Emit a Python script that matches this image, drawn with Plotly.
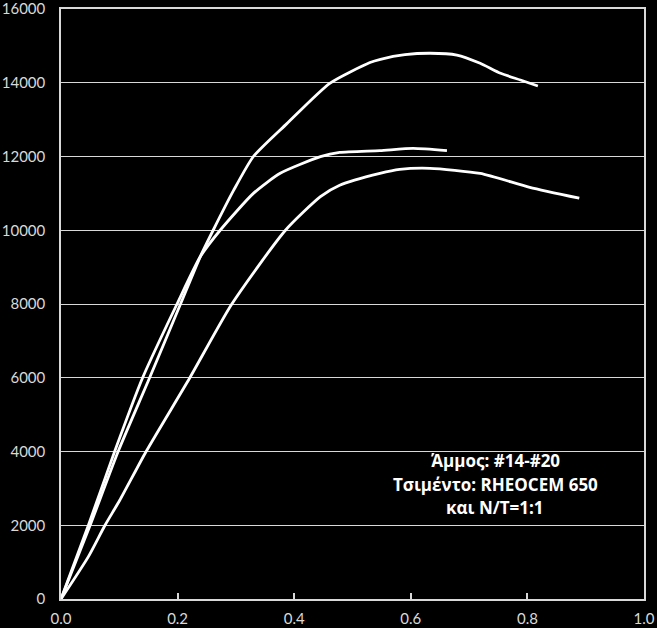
import plotly.graph_objects as go

# Curve data
top_x = [0, 0.05, 0.098, 0.152, 0.205, 0.239, 0.261, 0.296, 0.330, 0.387, 0.461, 0.530, 0.548, 0.590, 0.633, 0.679, 0.719, 0.754, 0.788, 0.818]
top_y = [0, 2000, 4000, 6000, 8000, 9286, 10000, 11080, 12000, 12885, 13985, 14550, 14636, 14760, 14800, 14752, 14527, 14256, 14075, 13912]

mid_x = [0, 0.047, 0.092, 0.140, 0.199, 0.239, 0.273, 0.330, 0.376, 0.445, 0.478, 0.547, 0.604, 0.662]
mid_y = [0, 2000, 4000, 6000, 8000, 9286, 10000, 11000, 11545, 11995, 12110, 12160, 12220, 12160]

bot_x = [0, 0.047, 0.0755, 0.101, 0.146, 0.221, 0.293, 0.385, 0.445, 0.478, 0.547, 0.581, 0.633, 0.719, 0.804, 0.889]
bot_y = [0, 1150, 2000, 2684, 4000, 6000, 8000, 10000, 10910, 11220, 11540, 11650, 11680, 11540, 11165, 10870]

x_ticks = [0.0, 0.2, 0.4, 0.6, 0.8, 1.0]
x_tick_text = ["0.0", "0.2", "0.4", "0.6", "0.8", "1.0"]
y_ticks = [0, 2000, 4000, 6000, 8000, 10000, 12000, 14000, 16000]
y_tick_text = ["0", "2000", "4000", "6000", "8000", "10000", "12000", "14000", "16000"]

note_lines = ["Άμμος: #14-#20", "Τσιμέντο: RHEOCEM 650", "και N/T=1:1"]

fig = go.Figure()
for xs, ys in [(top_x, top_y), (mid_x, mid_y), (bot_x, bot_y)]:
    fig.add_trace(go.Scatter(x=xs, y=ys, mode="lines",
                             line=dict(color="white", width=2.8, shape="spline", smoothing=0.6),
                             showlegend=False, hoverinfo="skip"))

grid_col = "#d9d9d9"
tick_font = dict(family="Lato, 'Open Sans', sans-serif", size=15, color="#d9d9d9")

fig.update_layout(
    template="none",
    width=657, height=628,
    margin=dict(l=61, r=13, t=9, b=29),
    paper_bgcolor="black", plot_bgcolor="black",
    showlegend=False,
)
fig.update_xaxes(range=[0, 1.0], tickvals=x_ticks, ticktext=x_tick_text,
                 showgrid=False, zeroline=False,
                 showline=True, linecolor=grid_col, linewidth=1.5, mirror=True,
                 ticks="inside", ticklen=6, tickcolor=grid_col, tickwidth=1.5,
                 tickfont=tick_font, automargin=False, ticklabelstandoff=5,
                 ticklabeloverflow="allow")
fig.update_yaxes(range=[0, 16000], tickvals=y_ticks, ticktext=y_tick_text,
                 showgrid=True, gridcolor=grid_col, gridwidth=1, zeroline=False,
                 showline=True, linecolor=grid_col, linewidth=1.5, mirror=True,
                 ticks="inside", ticklen=5, tickcolor=grid_col,
                 tickfont=tick_font, automargin=False, ticklabelstandoff=11,
                 ticklabeloverflow="allow")

note_y = [3756, 3097, 2474]
for txt, yy in zip(note_lines, note_y):
    fig.add_annotation(x=0.745, y=yy, xref="x", yref="y", text="<b>" + txt + "</b>",
                       showarrow=False,
                       font=dict(family="'Open Sans', 'Noto Sans', sans-serif", size=17, color="white"),
                       xanchor="center", yanchor="middle")

fig.write_html("out.html", config={"displayModeBar": False},
               post_script="document.body.style.margin='0px';document.body.style.background='black';")
